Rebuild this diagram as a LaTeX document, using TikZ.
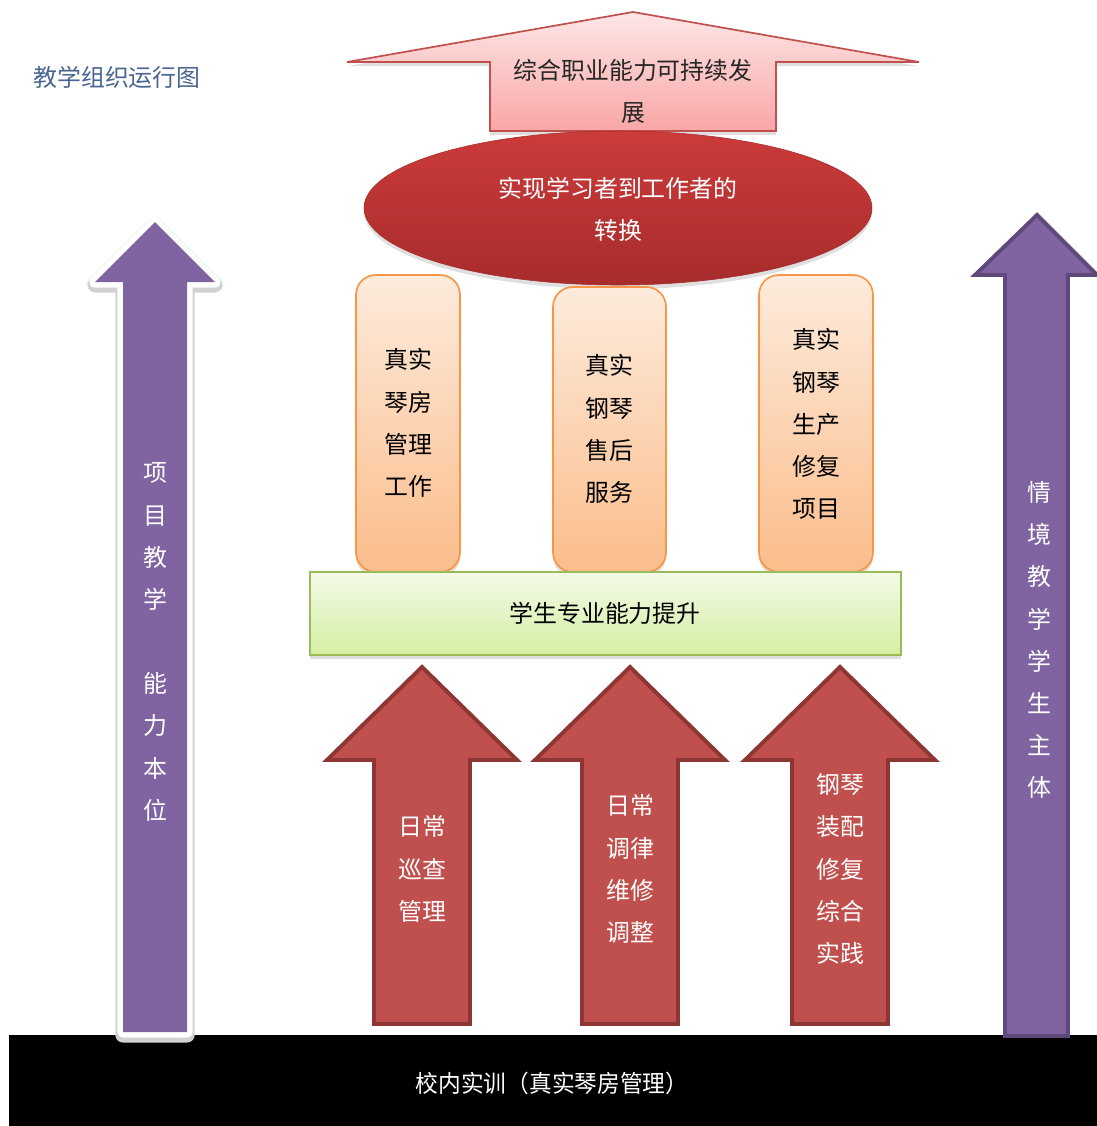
\documentclass[tikz,border=0pt]{standalone}
\usepackage{fontspec}
\setmainfont{Noto Sans CJK SC}
\usetikzlibrary{shadows}
\definecolor{arrowred}{HTML}{C0504D}
\definecolor{arrowredline}{HTML}{8E3634}
\definecolor{ovalred}{HTML}{A72C2C}
\definecolor{ovaltop}{HTML}{CB3B3A}
\definecolor{lilac}{HTML}{8064A2}
\definecolor{lilacline}{HTML}{5F497A}
\definecolor{pinktop}{HTML}{FDE6E6}
\definecolor{pinkbot}{HTML}{F9A6A6}
\definecolor{peachtop}{HTML}{FDEBDC}
\definecolor{peachbot}{HTML}{FBBD8B}
\definecolor{peachline}{HTML}{F79646}
\definecolor{limetop}{HTML}{F3FAE7}
\definecolor{limebot}{HTML}{D4EFA4}
\definecolor{limeline}{HTML}{9BBB59}
\definecolor{titleblue}{HTML}{4A6690}
\tikzset{
  txt/.style={align=center,inner sep=0,font=\fontsize{17}{30}\selectfont},
  softshadow/.style={drop shadow={opacity=0.25,shadow xshift=0pt,shadow yshift=-3pt}},
  redarrow/.style={fill=arrowred,draw=arrowredline,line width=2.8pt,line join=miter},
  pillar/.style={top color=peachtop,bottom color=peachbot,draw=peachline,line width=1.2pt,rounded corners=14pt,softshadow}
}
\begin{document}
\begin{tikzpicture}[x=0.025cm,y=-0.025cm]
\useasboundingbox (0,0) rectangle (1097,1126);

\fill[black] (9,1035) rectangle (1097,1126);
\node[txt,text=white,xscale=0.95] (base) at (552,1083) {校内实训（真实琴房管理）};

\node[txt,text=titleblue] (title) at (117,77) {教学组织运行图};

\draw[top color=pinktop,bottom color=pinkbot,draw=arrowred,line width=1.2pt,softshadow]
  (633,12) -- (919,62) -- (776,62) -- (776,131) -- (490,131) -- (490,62) -- (347,62) -- cycle;
\node[txt,text=black!85] (goal) at (633,91) {综合职业能力可持续发\\展};

\draw[top color=ovaltop,bottom color=ovalred,draw=ovalred,softshadow] (618,208) ellipse [x radius=254,y radius=77];
\node[txt,text=white] (shift) at (618,209) {实现学习者到工作者的\\转换};

\draw[pillar] (356,275) rectangle (460,572);
\draw[pillar] (553,287) rectangle (666,572);
\draw[pillar] (759,275) rectangle (873,572);
\node[txt] (room) at (408,423) {真实\\琴房\\管理\\工作};
\node[txt] (service) at (609,429) {真实\\钢琴\\售后\\服务};
\node[txt] (repair) at (816,424) {真实\\钢琴\\生产\\修复\\项目};

\draw[top color=limetop,bottom color=limebot,draw=limeline,line width=1.2pt,softshadow] (310,572) rectangle (901,655);
\node[txt] (skill) at (605,613) {学生专业能力提升};

\foreach \cx in {422,630,840}
  \draw[redarrow] (\cx,667) -- (\cx+95,760) -- (\cx+48,760) -- (\cx+48,1024)
    -- (\cx-48,1024) -- (\cx-48,760) -- (\cx-95,760) -- cycle;
\node[txt,text=white] (patrol) at (422,869) {日常\\巡查\\管理};
\node[txt,text=white] (tuning) at (630,869) {日常\\调律\\维修\\调整};
\node[txt,text=white] (assembly) at (840,869) {钢琴\\装配\\修复\\综合\\实践};

\draw[draw=black!18,line width=11pt,line join=round,yshift=-2pt]
  (155,222) -- (215,282) -- (187,282) -- (187,1032) -- (123,1032) -- (123,282) -- (95,282) -- cycle;
\draw[draw=white,line width=8pt,line join=round]
  (155,222) -- (215,282) -- (187,282) -- (187,1032) -- (123,1032) -- (123,282) -- (95,282) -- cycle;
\fill[lilac]
  (155,222) -- (215,282) -- (187,282) -- (187,1032) -- (123,1032) -- (123,282) -- (95,282) -- cycle;
\node[txt,text=white] (project) at (155,642) {项\\目\\教\\学\\[30pt]能\\力\\本\\位};

\draw[fill=lilac,draw=lilacline,line width=2.8pt,line join=miter]
  (1037,215) -- (1097,275) -- (1068,275) -- (1068,1036) -- (1005,1036) -- (1005,275) -- (975,275) -- cycle;
\node[txt,text=white] (context) at (1039,640) {情\\境\\教\\学\\学\\生\\主\\体};
\end{tikzpicture}
\end{document}
